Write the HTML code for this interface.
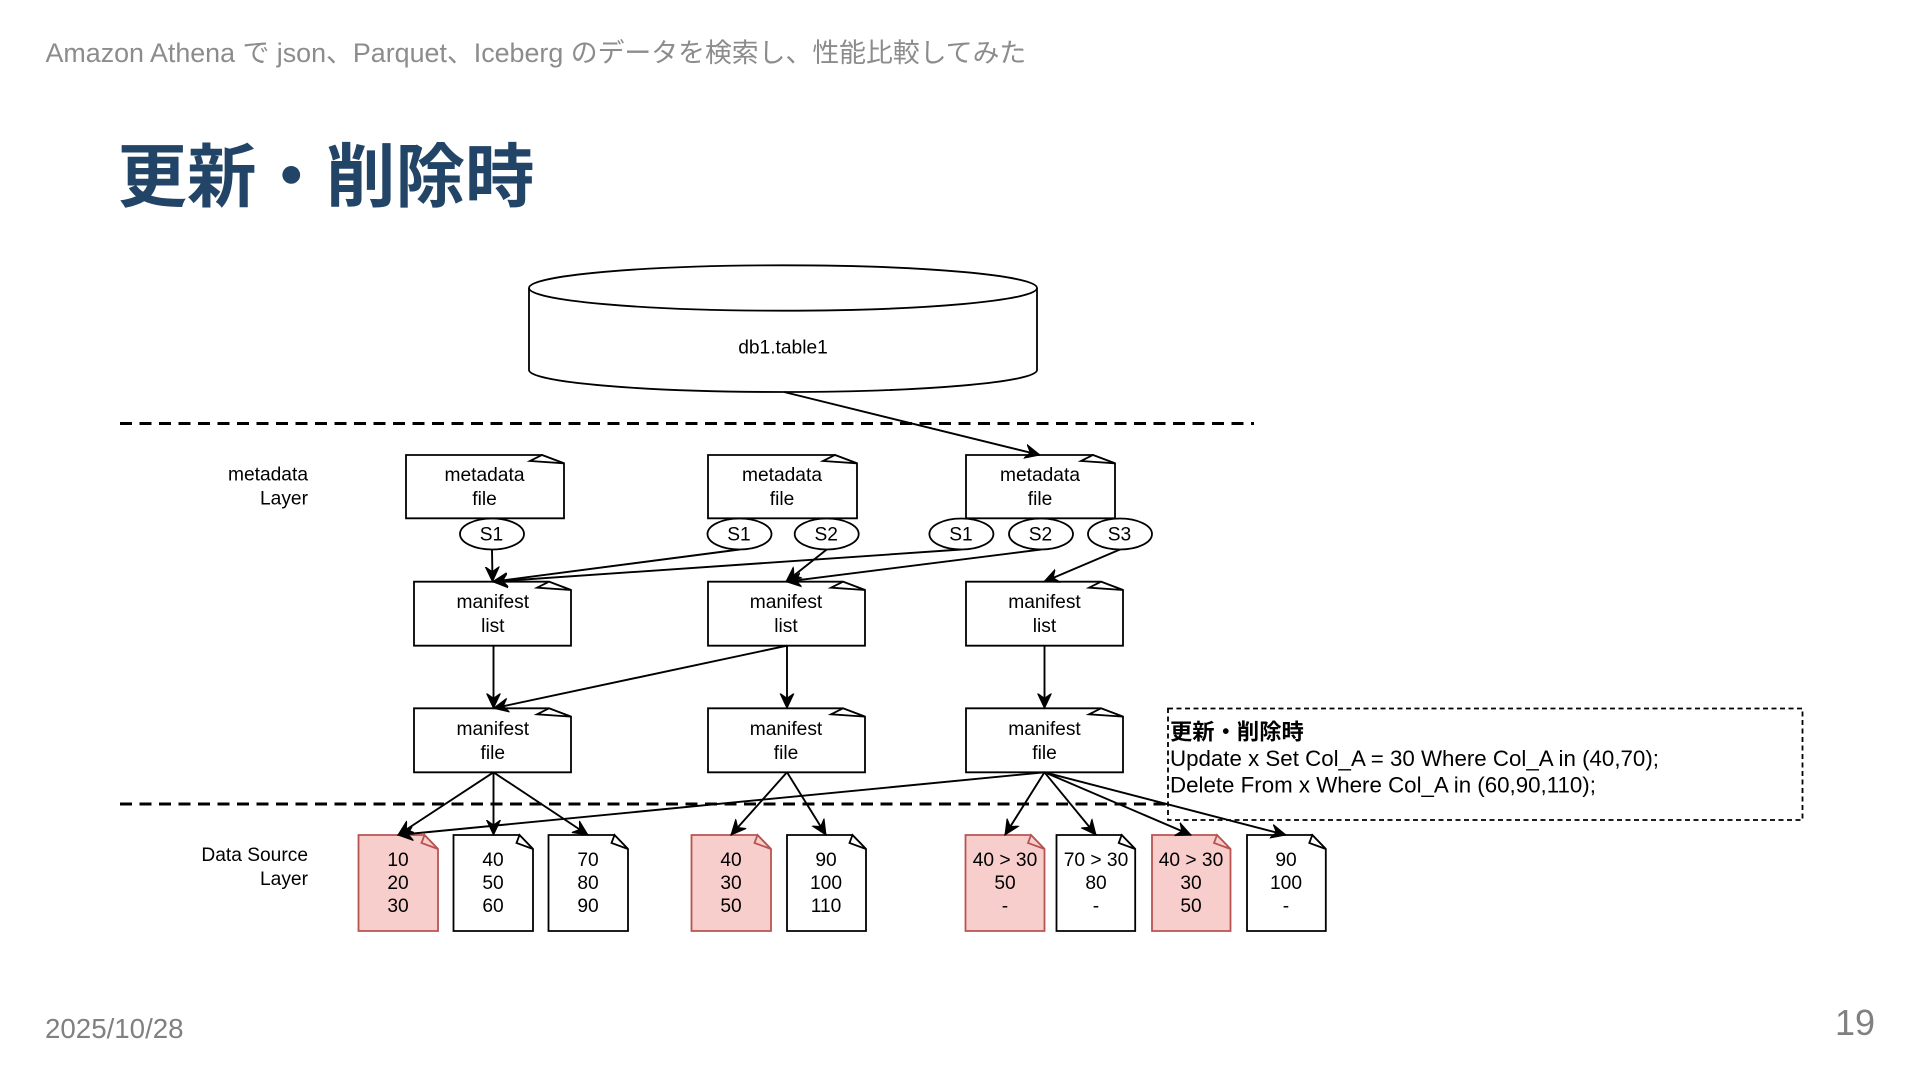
<!DOCTYPE html>
<html lang="ja"><head><meta charset="utf-8"><title>更新・削除時</title>
<style>
html,body{margin:0;padding:0;background:#fff;width:1920px;height:1080px;overflow:hidden}
svg{position:absolute;left:0;top:0;display:block}
text{font-family:"Liberation Sans","Noto Sans CJK JP",sans-serif}
.t{font-size:19.2px;fill:#000;text-anchor:middle}
.l{font-size:19.2px;fill:#000;text-anchor:end}
.n{fill:#fff;stroke:#000;stroke-width:1.8}
.p{fill:#f8cecc;stroke:#b85450;stroke-width:1.8}
.a{stroke:#000;stroke-width:1.9;fill:none;marker-end:url(#ah)}
</style></head><body>
<svg width="1920" height="1080" viewBox="0 0 1920 1080" xmlns="http://www.w3.org/2000/svg">
<defs>
<marker id="ah" markerUnits="userSpaceOnUse" markerWidth="18" markerHeight="18" refX="15" refY="8" orient="auto" viewBox="0 0 18 16">
<path d="M15,8 L0,1 L5,8 L0,15 Z" fill="#000" stroke="#000" stroke-width="1"/>
</marker>
</defs>
<text x="45.5" y="62" font-size="26.85" fill="#8c8c8c">Amazon Athena で json、Parquet、Iceberg のデータを検索し、性能比較してみた</text>
<text x="117.5" y="201" font-size="69.5" font-weight="700" fill="#224466">更新・削除時</text>
<text x="45" y="1044" font-size="27.7" fill="#808080" transform="translate(0,-6)">2025/10/28</text>
<text x="1875" y="1035" font-size="36" fill="#808080" text-anchor="end">19</text>

<path d="M529,288 V370 A254,22 0 0 0 1037,370 V288" fill="#fff" stroke="#000" stroke-width="1.8"/>
<ellipse cx="783" cy="288" rx="254" ry="22.7" fill="#fff" stroke="#000" stroke-width="1.8"/>
<text class="t" x="783" y="353.5">db1.table1</text>

<line x1="120" y1="423.5" x2="1254" y2="423.5" stroke="#000" stroke-width="3" stroke-dasharray="12 7.5"/>
<line x1="120" y1="804" x2="1168" y2="804" stroke="#000" stroke-width="3" stroke-dasharray="12 7.5"/>

<text class="l" x="308" y="480.5">metadata</text><text class="l" x="308" y="504.5">Layer</text>
<text class="l" x="308" y="861">Data Source</text><text class="l" x="308" y="885">Layer</text>

<!-- metadata files -->
<path class="n" d="M406,455 H542 L564,463.3 V518.3 H406 Z"/><path class="n" d="M542,455 L564,463.3 L530,461 Z"/>
<path class="n" d="M708,455 H835 L857,463.3 V518.3 H708 Z"/><path class="n" d="M835,455 L857,463.3 L823,461 Z"/>
<path class="n" d="M966,455 H1093 L1115,463.3 V518.3 H966 Z"/><path class="n" d="M1093,455 L1115,463.3 L1081,461 Z"/>
<text class="t" x="484.5" y="481">metadata</text><text class="t" x="484.5" y="505">file</text>
<text class="t" x="782" y="481">metadata</text><text class="t" x="782" y="505">file</text>
<text class="t" x="1040" y="481">metadata</text><text class="t" x="1040" y="505">file</text>

<!-- snapshots -->
<ellipse class="n" cx="492" cy="534" rx="32" ry="15.5"/><text class="t" x="491.5" y="540.5">S1</text>
<ellipse class="n" cx="739.5" cy="534" rx="32" ry="15.5"/><text class="t" x="739" y="540.5">S1</text>
<ellipse class="n" cx="826.7" cy="534" rx="32" ry="15.5"/><text class="t" x="826.2" y="540.5">S2</text>
<ellipse class="n" cx="961.4" cy="534" rx="32" ry="15.5"/><text class="t" x="961" y="540.5">S1</text>
<ellipse class="n" cx="1041" cy="534" rx="32" ry="15.5"/><text class="t" x="1040.5" y="540.5">S2</text>
<ellipse class="n" cx="1120" cy="534" rx="32" ry="15.5"/><text class="t" x="1119.5" y="540.5">S3</text>

<!-- manifest lists -->
<path class="n" d="M414,581.7 H549 L571,590 V645.7 H414 Z"/><path class="n" d="M549,581.7 L571,590 L537,587.7 Z"/>
<path class="n" d="M708,581.7 H843 L865,590 V645.7 H708 Z"/><path class="n" d="M843,581.7 L865,590 L831,587.7 Z"/>
<path class="n" d="M966,581.7 H1101 L1123,590 V645.7 H966 Z"/><path class="n" d="M1101,581.7 L1123,590 L1089,587.7 Z"/>
<text class="t" x="492.8" y="608">manifest</text><text class="t" x="492.8" y="632">list</text>
<text class="t" x="786" y="608">manifest</text><text class="t" x="786" y="632">list</text>
<text class="t" x="1044.5" y="608">manifest</text><text class="t" x="1044.5" y="632">list</text>

<!-- manifest files -->
<path class="n" d="M414,708.3 H549 L571,716.6 V772.3 H414 Z"/><path class="n" d="M549,708.3 L571,716.6 L537,714.3 Z"/>
<path class="n" d="M708,708.3 H843 L865,716.6 V772.3 H708 Z"/><path class="n" d="M843,708.3 L865,716.6 L831,714.3 Z"/>
<path class="n" d="M966,708.3 H1101 L1123,716.6 V772.3 H966 Z"/><path class="n" d="M1101,708.3 L1123,716.6 L1089,714.3 Z"/>
<text class="t" x="492.8" y="735">manifest</text><text class="t" x="492.8" y="759">file</text>
<text class="t" x="786" y="735">manifest</text><text class="t" x="786" y="759">file</text>
<text class="t" x="1044.5" y="735">manifest</text><text class="t" x="1044.5" y="759">file</text>

<!-- data docs -->
<path class="p" d="M358.5,835 H424.5 L438,849 V931 H358.5 Z"/><path class="p" d="M424.5,835 L438,849 L421.5,843 Z"/>
<path class="n" d="M453.5,835 H519.5 L533,849 V931 H453.5 Z"/><path class="n" d="M519.5,835 L533,849 L516.5,843 Z"/>
<path class="n" d="M548.5,835 H614.5 L628,849 V931 H548.5 Z"/><path class="n" d="M614.5,835 L628,849 L611.5,843 Z"/>
<path class="p" d="M691.5,835 H757.5 L771,849 V931 H691.5 Z"/><path class="p" d="M757.5,835 L771,849 L754.5,843 Z"/>
<path class="n" d="M787,835 H852.5 L866,849 V931 H787 Z"/><path class="n" d="M852.5,835 L866,849 L849.5,843 Z"/>
<path class="p" d="M965.5,835 H1031 L1044.5,849 V931 H965.5 Z"/><path class="p" d="M1031,835 L1044.5,849 L1028,843 Z"/>
<path class="n" d="M1056.5,835 H1121.7 L1135.2,849 V931 H1056.5 Z"/><path class="n" d="M1121.7,835 L1135.2,849 L1118.7,843 Z"/>
<path class="p" d="M1152,835 H1217 L1230.5,849 V931 H1152 Z"/><path class="p" d="M1217,835 L1230.5,849 L1214,843 Z"/>
<path class="n" d="M1247,835 H1312.3 L1325.8,849 V931 H1247 Z"/><path class="n" d="M1312.3,835 L1325.8,849 L1309.3,843 Z"/>

<text class="t" x="398" y="866">10</text><text class="t" x="398" y="889">20</text><text class="t" x="398" y="912">30</text>
<text class="t" x="493" y="866">40</text><text class="t" x="493" y="889">50</text><text class="t" x="493" y="912">60</text>
<text class="t" x="588" y="866">70</text><text class="t" x="588" y="889">80</text><text class="t" x="588" y="912">90</text>
<text class="t" x="731" y="866">40</text><text class="t" x="731" y="889">30</text><text class="t" x="731" y="912">50</text>
<text class="t" x="826" y="866">90</text><text class="t" x="826" y="889">100</text><text class="t" x="826" y="912">110</text>
<text class="t" x="1005" y="866">40 &gt; 30</text><text class="t" x="1005" y="889">50</text><text class="t" x="1005" y="912">-</text>
<text class="t" x="1096" y="866">70 &gt; 30</text><text class="t" x="1096" y="889">80</text><text class="t" x="1096" y="912">-</text>
<text class="t" x="1191" y="866">40 &gt; 30</text><text class="t" x="1191" y="889">30</text><text class="t" x="1191" y="912">50</text>
<text class="t" x="1286" y="866">90</text><text class="t" x="1286" y="889">100</text><text class="t" x="1286" y="912">-</text>

<!-- note -->
<rect x="1168" y="708.5" width="634.5" height="111.5" fill="none" stroke="#000" stroke-width="1.8" stroke-dasharray="5 3.5"/>
<text x="1170" y="739.5" font-size="22.3" font-weight="700" fill="#000">更新・削除時</text>
<text x="1170" y="766" font-size="22.3" fill="#000">Update x Set Col_A = 30 Where Col_A in (40,70);</text>
<text x="1170" y="792.5" font-size="22.3" fill="#000">Delete From x Where Col_A in (60,90,110);</text>

<!-- connectors -->
<line class="a" x1="784" y1="392" x2="1040" y2="455"/>
<line class="a" x1="492" y1="549.5" x2="492.5" y2="581.7"/>
<line class="a" x1="739.5" y1="549.5" x2="492.5" y2="581.7"/>
<line class="a" x1="961.4" y1="549.5" x2="492.5" y2="581.7"/>
<line class="a" x1="826.7" y1="549.5" x2="786" y2="581.7"/>
<line class="a" x1="1041" y1="549.5" x2="786" y2="581.7"/>
<line class="a" x1="1120" y1="549.5" x2="1044" y2="581.7"/>
<line class="a" x1="493.5" y1="645.7" x2="493.5" y2="708.3"/>
<line class="a" x1="787" y1="645.7" x2="493.5" y2="708.3"/>
<line class="a" x1="787" y1="645.7" x2="787" y2="708.3"/>
<line class="a" x1="1044.5" y1="645.7" x2="1044.5" y2="708.3"/>
<line class="a" x1="493.5" y1="772.3" x2="398" y2="835"/>
<line class="a" x1="493.5" y1="772.3" x2="493.5" y2="835"/>
<line class="a" x1="493.5" y1="772.3" x2="588" y2="835"/>
<line class="a" x1="1044.5" y1="772.3" x2="398" y2="835"/>
<line class="a" x1="787" y1="772.3" x2="731" y2="835"/>
<line class="a" x1="787" y1="772.3" x2="826" y2="835"/>
<line class="a" x1="1044.5" y1="772.3" x2="1005" y2="835"/>
<line class="a" x1="1044.5" y1="772.3" x2="1096" y2="835"/>
<line class="a" x1="1044.5" y1="772.3" x2="1191" y2="835"/>
<line class="a" x1="1044.5" y1="772.3" x2="1286" y2="835"/>
</svg>
</body></html>
